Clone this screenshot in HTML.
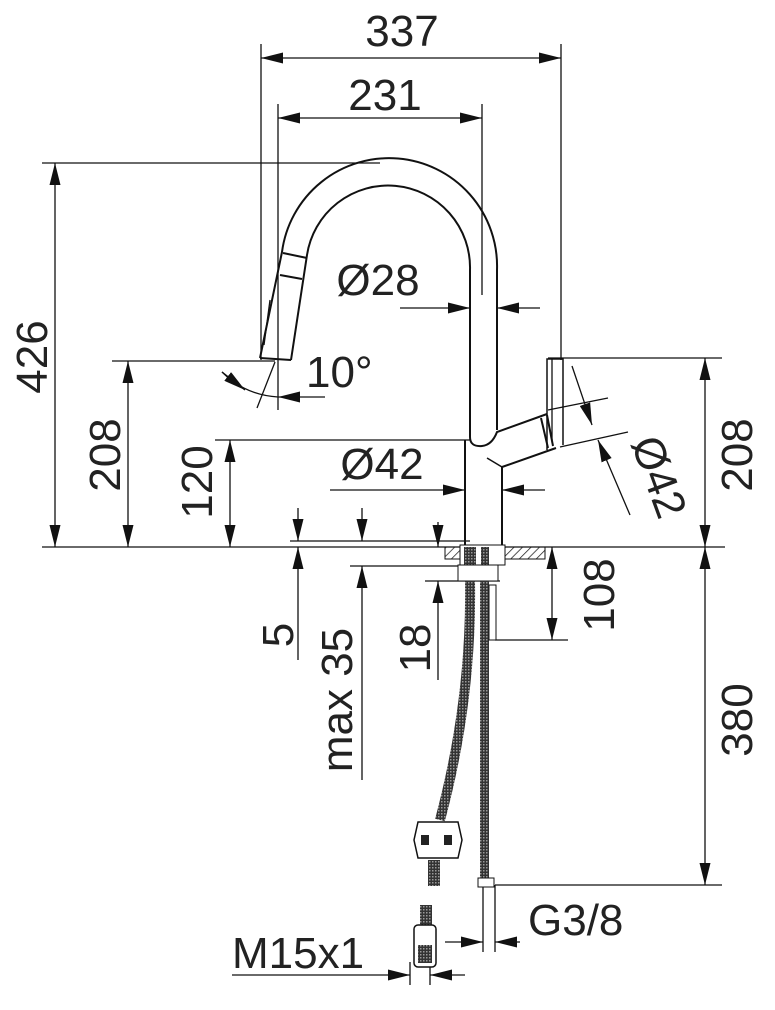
<!DOCTYPE html>
<html><head><meta charset="utf-8"><style>
html,body{margin:0;padding:0;background:#fff;}
svg{display:block;}
text{font-family:"Liberation Sans",sans-serif;font-size:44px;fill:#222;}
</style></head><body>
<svg width="775" height="1010" viewBox="0 0 775 1010" xmlns="http://www.w3.org/2000/svg">
<defs>
<marker id="a" viewBox="0 0 20 10" refX="20" refY="5" markerWidth="22" markerHeight="11" markerUnits="userSpaceOnUse" orient="auto"><path d="M0,0L20,5L0,10z" fill="#111"/></marker>
<pattern id="h" width="6" height="6" patternUnits="userSpaceOnUse" patternTransform="rotate(45)"><line x1="0" y1="0" x2="0" y2="6" stroke="#222" stroke-width="1.5"/></pattern>
<pattern id="m" width="3" height="3" patternUnits="userSpaceOnUse"><rect width="3" height="3" fill="#333"/><rect width="1.5" height="1.5" fill="#999"/></pattern>
</defs>
<g stroke="#111" stroke-width="1.3" fill="none">
<line x1="261" y1="44" x2="261" y2="360"/>
<line x1="561" y1="44" x2="561" y2="360"/>
<line x1="278" y1="104" x2="278" y2="410"/>
<line x1="482" y1="104" x2="482" y2="295"/>
<line x1="42" y1="163" x2="380" y2="163"/>
<line x1="112" y1="361" x2="275" y2="361"/>
<line x1="215" y1="440" x2="470" y2="440"/>
<line x1="42" y1="547" x2="725" y2="547"/>
<line x1="548" y1="358" x2="722" y2="358"/>
<line x1="495" y1="885" x2="722" y2="885"/>
<line x1="495" y1="640" x2="568" y2="640"/>
<line x1="290" y1="541" x2="470" y2="541"/>
<line x1="350" y1="566" x2="465" y2="566"/>
<line x1="425" y1="581" x2="500" y2="581"/>
<line x1="483" y1="885" x2="483" y2="952"/>
<line x1="495" y1="885" x2="495" y2="952"/>
<line x1="410" y1="962" x2="410" y2="985"/>
<line x1="430" y1="962" x2="430" y2="985"/>
<line x1="410" y1="58" x2="561" y2="58" marker-end="url(#a)"/>
<line x1="410" y1="58" x2="261" y2="58" marker-end="url(#a)"/>
<line x1="380" y1="118" x2="482" y2="118" marker-end="url(#a)"/>
<line x1="380" y1="118" x2="278" y2="118" marker-end="url(#a)"/>
<line x1="55" y1="355" x2="55" y2="163" marker-end="url(#a)"/>
<line x1="55" y1="355" x2="55" y2="547" marker-end="url(#a)"/>
<line x1="128" y1="455" x2="128" y2="361" marker-end="url(#a)"/>
<line x1="128" y1="455" x2="128" y2="547" marker-end="url(#a)"/>
<line x1="230" y1="495" x2="230" y2="440" marker-end="url(#a)"/>
<line x1="230" y1="495" x2="230" y2="547" marker-end="url(#a)"/>
<line x1="705" y1="450" x2="705" y2="358" marker-end="url(#a)"/>
<line x1="705" y1="450" x2="705" y2="547" marker-end="url(#a)"/>
<line x1="705" y1="715" x2="705" y2="547" marker-end="url(#a)"/>
<line x1="705" y1="715" x2="705" y2="885" marker-end="url(#a)"/>
<line x1="552" y1="595" x2="552" y2="547" marker-end="url(#a)"/>
<line x1="552" y1="595" x2="552" y2="640" marker-end="url(#a)"/>
<line x1="298" y1="508" x2="298" y2="541" marker-end="url(#a)"/>
<line x1="298" y1="660" x2="298" y2="547" marker-end="url(#a)"/>
<line x1="362" y1="508" x2="362" y2="541" marker-end="url(#a)"/>
<line x1="362" y1="780" x2="362" y2="566" marker-end="url(#a)"/>
<line x1="438" y1="522" x2="438" y2="547" marker-end="url(#a)"/>
<line x1="438" y1="680" x2="438" y2="581" marker-end="url(#a)"/>
<line x1="400" y1="308" x2="470" y2="308" marker-end="url(#a)"/>
<line x1="540" y1="308" x2="497" y2="308" marker-end="url(#a)"/>
<line x1="330" y1="490" x2="465" y2="490" marker-end="url(#a)"/>
<line x1="545" y1="490" x2="502" y2="490" marker-end="url(#a)"/>
<line x1="445" y1="942" x2="483" y2="942" marker-end="url(#a)"/>
<line x1="520" y1="942" x2="495" y2="942" marker-end="url(#a)"/>
<line x1="232" y1="975" x2="410" y2="975" marker-end="url(#a)"/>
<line x1="465" y1="975" x2="430" y2="975" marker-end="url(#a)"/>
<path d="M222,372 Q245,395 278,397"/>
<line x1="222" y1="372" x2="245" y2="390" marker-end="url(#a)"/>
<line x1="325" y1="397" x2="278" y2="397" marker-end="url(#a)"/>
<line x1="275" y1="362" x2="257" y2="408"/>
<line x1="548" y1="410" x2="608" y2="398"/>
<line x1="560" y1="447" x2="628" y2="432"/>
<line x1="572" y1="366" x2="592" y2="425" marker-end="url(#a)"/>
<line x1="630" y1="515" x2="598" y2="440" marker-end="url(#a)"/>
<path d="M260,358 L282,252 A108,108 0 0 1 497,270 L497,430" stroke-width="2"/>
<path d="M291,360 L307,255 A82,82 0 0 1 470,270 L470,437" stroke-width="2"/>
<line x1="260" y1="358" x2="291" y2="360" stroke-width="2"/>
<line x1="283" y1="253" x2="307" y2="258" stroke-width="2"/>
<line x1="280" y1="275" x2="302" y2="279" stroke-width="2"/>
<line x1="270" y1="300" x2="264" y2="345"/>
<path d="M470,437 Q470,447 482,446 Q492,445 497,432 L547,414" stroke-width="2"/>
<path d="M465,440 L465,547" stroke-width="2"/>
<path d="M502,547 L502,467 L556,448" stroke-width="2"/>
<line x1="487" y1="458" x2="502" y2="467" stroke-width="1.5"/>
<line x1="541" y1="418" x2="548" y2="448" stroke-width="2"/>
<line x1="547" y1="415" x2="553" y2="446" stroke-width="2"/>
<path d="M547,450 L547,359 L563,359 L563,445" stroke-width="1.5"/>
<line x1="552" y1="359" x2="552" y2="440"/>
</g>
<rect x="445" y="547" width="100" height="12" fill="url(#h)" stroke="#111" stroke-width="1"/>
<rect x="460" y="545" width="45" height="20" fill="#fff" stroke="#111"/>
<rect x="464" y="547" width="12" height="18" fill="url(#m)"/>
<rect x="481" y="547" width="8" height="18" fill="url(#m)"/>
<rect x="458" y="565" width="40" height="16" fill="#fff" stroke="#111"/>
<path d="M470,581 Q472,700 440,820" stroke="url(#m)" stroke-width="10" fill="none"/>
<rect x="480" y="581" width="9" height="298" fill="url(#m)"/>
<rect x="489" y="585" width="7" height="55" fill="#fff" stroke="#111"/>
<rect x="478" y="878" width="16" height="9" fill="#fff" stroke="#111"/>
<path d="M418,822 L458,822 L462,840 L458,858 L418,858 L414,840z" fill="#fff" stroke="#111" stroke-width="1.5"/>
<rect x="421" y="835" width="8" height="10" fill="#222"/><rect x="444" y="835" width="8" height="10" fill="#222"/>
<rect x="428" y="860" width="12" height="26" fill="url(#m)"/>
<rect x="420" y="905" width="12" height="20" fill="url(#m)"/>
<rect x="414" y="925" width="22" height="42" rx="4" fill="#fff" stroke="#111" stroke-width="1.5"/>
<rect x="418" y="945" width="14" height="18" fill="url(#m)"/>
<text x="402" y="46" text-anchor="middle">337</text>
<text x="385" y="110" text-anchor="middle">231</text>
<text x="378" y="295" text-anchor="middle">Ø28</text>
<text x="382" y="479" text-anchor="middle">Ø42</text>
<text x="306" y="387">10°</text>
<text x="528" y="935">G3/8</text>
<text x="232" y="968">M15x1</text>
<text transform="translate(47,357) rotate(-90)" text-anchor="middle">426</text>
<text transform="translate(120,455) rotate(-90)" text-anchor="middle">208</text>
<text transform="translate(212,482) rotate(-90)" text-anchor="middle">120</text>
<text transform="translate(752,455) rotate(-90)" text-anchor="middle">208</text>
<text transform="translate(752,720) rotate(-90)" text-anchor="middle">380</text>
<text transform="translate(614,595) rotate(-90)" text-anchor="middle">108</text>
<text transform="translate(293,635) rotate(-90)" text-anchor="middle">5</text>
<text transform="translate(352,700) rotate(-90)" text-anchor="middle">max 35</text>
<text transform="translate(430,648) rotate(-90)" text-anchor="middle">18</text>
<text transform="translate(645,482) rotate(70)" text-anchor="middle">Ø42</text>
</svg>
</body></html>
